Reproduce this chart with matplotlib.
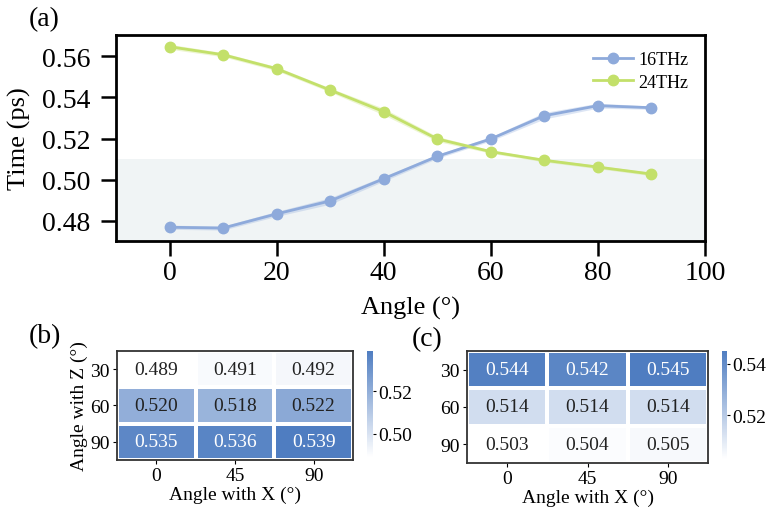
import numpy as np
import matplotlib
matplotlib.use("Agg")
import matplotlib.pyplot as plt
from matplotlib.colors import LinearSegmentedColormap

plt.rcParams['font.family'] = ['Liberation Serif', 'DejaVu Serif']
plt.rcParams['mathtext.fontset'] = 'stix'

angles = [0, 10, 20, 30, 40, 50, 60, 70, 80, 90]
t16 = [0.4768, 0.4764, 0.4833, 0.4896, 0.5004, 0.5113, 0.5198, 0.5311, 0.5360, 0.5350]
t24 = [0.5647, 0.5608, 0.5540, 0.5436, 0.5331, 0.5198, 0.5136, 0.5094, 0.5061, 0.5027]
err16 = [0.0010, 0.0010, 0.0012, 0.0016, 0.0012, 0.0010, 0.0010, 0.0016, 0.0012, 0.0008]
err24 = [0.0012, 0.0010, 0.0010, 0.0010, 0.0016, 0.0012, 0.0008, 0.0008, 0.0008, 0.0008]

x_labels = ["0", "45", "90"]
z_labels = ["30", "60", "90"]
heat_b = [[0.489, 0.491, 0.492],
          [0.520, 0.518, 0.522],
          [0.535, 0.536, 0.539]]
heat_c = [[0.544, 0.542, 0.545],
          [0.514, 0.514, 0.514],
          [0.503, 0.504, 0.505]]

c16 = '#8eaadb'
c24 = '#c3e06a'
cmap = LinearSegmentedColormap.from_list('wb', ['#ffffff', '#4f7dc1'])

fig = plt.figure(figsize=(7.7, 5.1), dpi=100)

# (a) line plot
ax = fig.add_axes([0.1506, 0.5255, 0.7649, 0.4039])
ax.axhspan(0.46, 0.51, color='#f0f4f5', zorder=0, lw=0)
a = np.array(angles)
for y, e, c, lab in [(t16, err16, c16, '16THz'), (t24, err24, c24, '24THz')]:
    y = np.array(y); e = np.array(e)
    ax.fill_between(a, y - e, y + e, color=c, alpha=0.3, lw=0, zorder=1)
    ax.plot(a, y, '-o', color=c, lw=2, ms=7.5, label=lab, zorder=2)
ax.set_xlim(-10, 100)
ax.set_ylim(0.4701, 0.5704)
ax.set_xticks([0, 20, 40, 60, 80, 100])
ax.set_yticks([0.48, 0.50, 0.52, 0.54, 0.56])
ax.set_yticklabels(['0.48', '0.50', '0.52', '0.54', '0.56'])
ax.tick_params(labelsize=20, width=1.8)
ax.tick_params(axis='x', length=10.5, pad=3)
ax.tick_params(axis='y', length=10.5, pad=8)
for s in ax.spines.values():
    s.set_linewidth(2)
ax.set_xlabel('Angle (°)', fontsize=19, labelpad=8)
ax.set_ylabel('Time (ps)', fontsize=19, labelpad=8)
ax.legend(loc='upper right', frameon=False, fontsize=13, handlelength=2.2,
          borderaxespad=0.5, labelspacing=0.3, handletextpad=0.3)
fig.text(0.058, 0.962, '(a)', fontsize=20, ha='center', va='center')

def heat(rect, crect, data, ylabel, ticks):
    hx = fig.add_axes(rect)
    d = np.array(data)
    m = hx.pcolormesh(d, cmap=cmap, vmin=d.min(), vmax=d.max(),
                      edgecolor='white', linewidth=1.5)
    hx.set_xlim(0, 3); hx.set_ylim(3, 0)
    lo, hi = d.min(), d.max()
    for i in range(3):
        for j in range(3):
            v = d[i, j]
            frac = (v - lo) / (hi - lo)
            hx.text(j + 0.5, i + 0.5, f'{v:.3f}', ha='center', va='center',
                    fontsize=14, color='white' if frac > 0.7 else '#222222')
    hx.set_xticks([0.5, 1.5, 2.5]); hx.set_xticklabels(x_labels)
    hx.set_yticks([0.5, 1.5, 2.5]); hx.set_yticklabels(z_labels)
    hx.tick_params(labelsize=14, length=3, width=0.8, pad=2)
    for s in hx.spines.values():
        s.set_linewidth(1.3); s.set_color('#333333')
    hx.set_xlabel('Angle with X (°)', fontsize=14, labelpad=1)
    if ylabel:
        hx.set_ylabel(ylabel, fontsize=14, labelpad=2)
    cx = fig.add_axes(crect)
    cb = fig.colorbar(m, cax=cx)
    cb.outline.set_visible(False)
    cb.set_ticks(ticks)
    cb.set_ticklabels([f'{t:.2f}' for t in ticks])
    cx.tick_params(labelsize=14, length=2.5, width=0.8, pad=1)
    return hx

heat([0.1519, 0.0961, 0.3065, 0.2137], [0.4766, 0.102, 0.0078, 0.2078],
     heat_b, 'Angle with Z (°)', [0.50, 0.52])
heat([0.6065, 0.0902, 0.313, 0.2196], [0.9377, 0.098, 0.0065, 0.212],
     heat_c, None, [0.52, 0.54])
fig.text(0.058, 0.34, '(b)', fontsize=20, ha='center', va='center')
fig.text(0.555, 0.335, '(c)', fontsize=20, ha='center', va='center')

fig.savefig('out.png', dpi=100)
